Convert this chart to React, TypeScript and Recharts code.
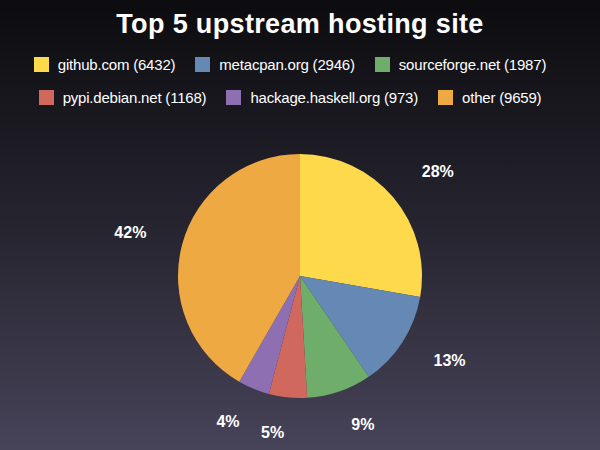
import React from 'react';
import { PieChart, Pie, Cell } from 'recharts';

const sites = ['github.com', 'metacpan.org', 'sourceforge.net', 'pypi.debian.net', 'hackage.haskell.org', 'other'];
const counts = [6432, 2946, 1987, 1168, 973, 9659];
const colors = ['#fed94c', '#6688b5', '#6fad6a', '#d1685e', '#8d6fb2', '#efa943'];
const title = 'Top 5 upstream hosting site';

const data = sites.map((name, i) => ({ name, value: counts[i] }));
const RADIAN = Math.PI / 180;
const FONT = '"Liberation Sans", Arial, Helvetica, sans-serif';

const renderLabel = (props: any) => {
  const { cx, cy, midAngle, outerRadius, percent } = props;
  const r = outerRadius + 37;
  const dx = r * Math.cos(-midAngle * RADIAN);
  const dy = r * Math.sin(-midAngle * RADIAN);
  const anchor = dx >= 0 ? 'start' : 'end';
  return (
    <text
      x={cx + dx}
      y={cy + dy - 2}
      fill="#ffffff"
      fontFamily={FONT}
      fontWeight="bold"
      fontSize={16}
      textAnchor={anchor}
      dominantBaseline="central"
    >
      {Math.round(percent * 100) + '%'}
    </text>
  );
};

const rows = [data.slice(0, 3), data.slice(3, 6)];

export default function App() {
  return (
    <div
      style={{
        position: 'fixed',
        left: 0,
        top: 0,
        width: 600,
        height: 450,
        background: 'linear-gradient(to bottom, #0c0c0f 0%, #26242f 50%, #474359 100%)',
        fontFamily: FONT,
        overflow: 'hidden',
      }}
    >
      <div
        style={{
          position: 'absolute',
          top: 7,
          left: 0,
          width: 600,
          textAlign: 'center',
          color: '#fff',
          fontWeight: 'bold',
          fontSize: 27,
          letterSpacing: 0.35,
          lineHeight: '34px',
        }}
      >
        {title}
      </div>
      {rows.map((row, ri) => (
        <div
          key={ri}
          style={{
            position: 'absolute',
            top: 55.5 + ri * 32.5,
            left: 0,
            width: 600,
            display: 'flex',
            justifyContent: 'center',
            alignItems: 'center',
            height: 18,
          }}
        >
          {row.map((d) => {
            const idx = sites.indexOf(d.name);
            return (
              <div key={d.name} style={{ display: 'flex', alignItems: 'center', marginRight: 20 }}>
                <div style={{ width: 15, height: 15, background: colors[idx], marginRight: 9 }} />
                <span style={{ color: '#fff', fontSize: 15, letterSpacing: -0.2, whiteSpace: 'nowrap' }}>
                  {d.name} ({d.value})
                </span>
              </div>
            );
          })}
        </div>
      ))}
      <div style={{ position: 'absolute', left: 0, top: 0 }}>
        <PieChart width={600} height={450} margin={{ top: 0, right: 0, bottom: 0, left: 0 }}>
          <Pie
            data={data}
            dataKey="value"
            nameKey="name"
            cx={300}
            cy={276}
            outerRadius={122}
            startAngle={90}
            endAngle={-270}
            stroke="none"
            label={renderLabel}
            labelLine={false}
            isAnimationActive={false}
          >
            {data.map((d, i) => (
              <Cell key={d.name} fill={colors[i]} />
            ))}
          </Pie>
        </PieChart>
      </div>
    </div>
  );
}
